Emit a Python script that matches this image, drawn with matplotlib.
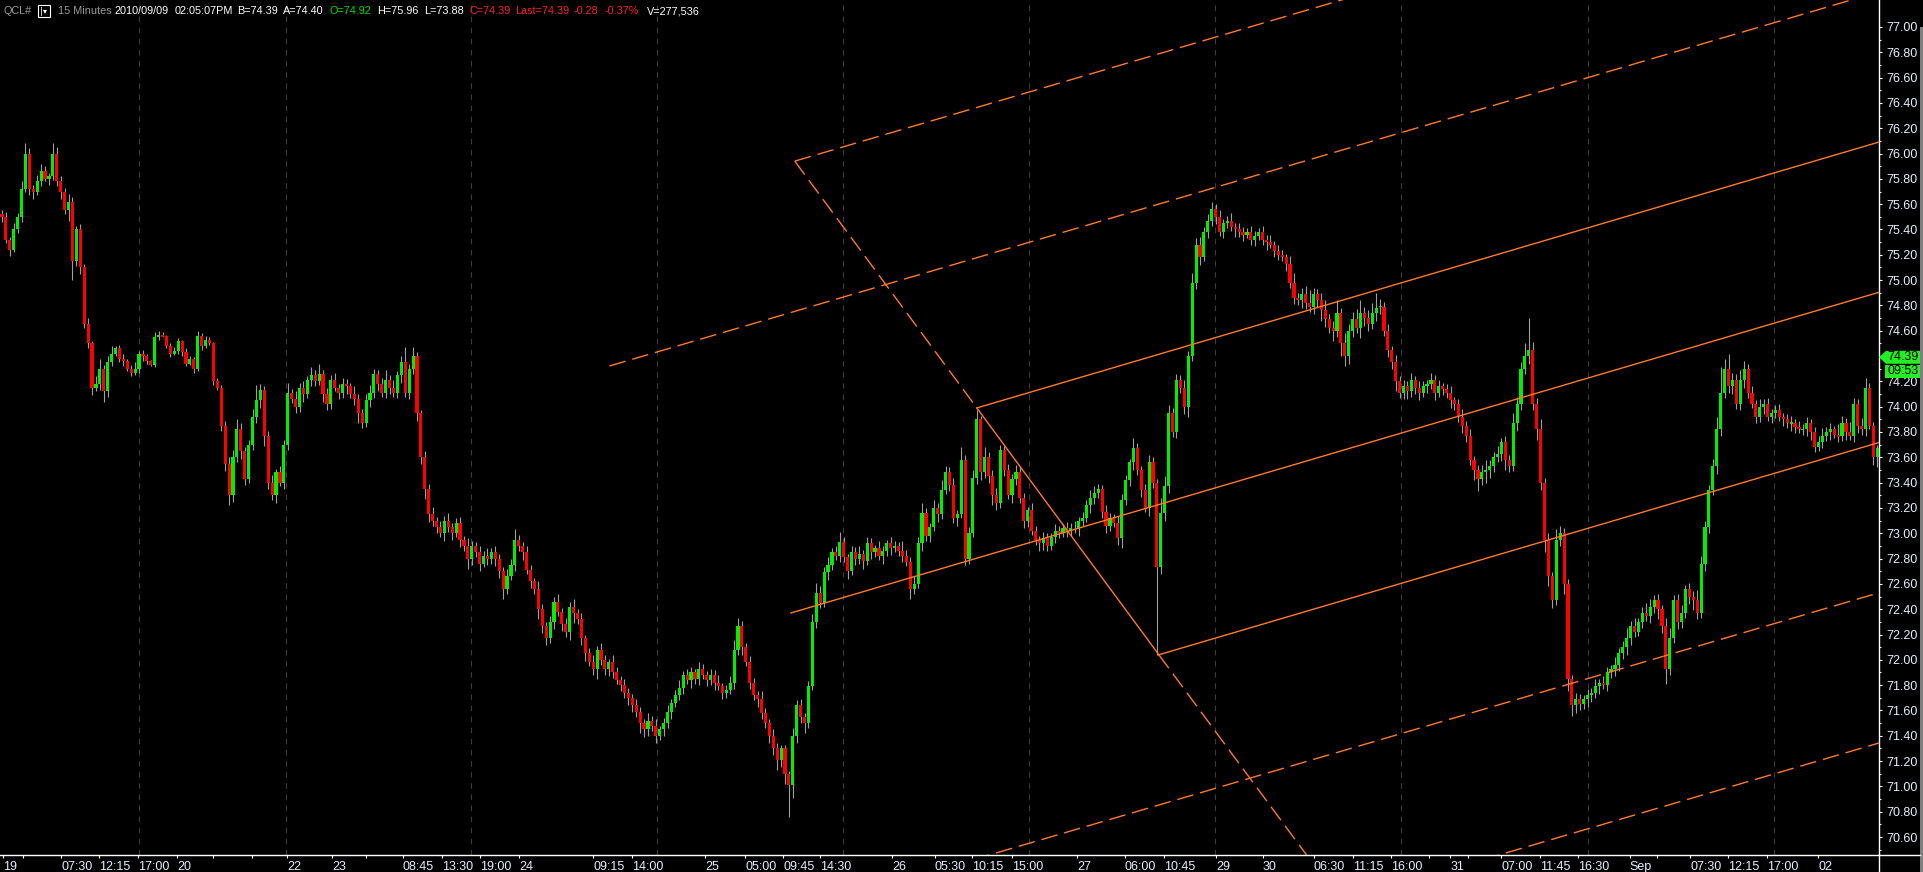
import numpy as np
import matplotlib.pyplot as plt
from matplotlib.patches import Polygon, Rectangle
from matplotlib.lines import Line2D

W, H, DPI = 1924, 872, 100
plt.rcParams['font.family'] = ['Liberation Sans', 'DejaVu Sans']

# --- data (30 min bars) ---
first_open = 75.52
closes = [
    75.50, 75.32, 75.24, 75.40, 75.50, 75.72, 76.00, 75.72, 75.70, 75.78,
    75.86, 75.80, 75.82, 76.00, 75.78, 75.70, 75.55, 75.62, 75.15, 75.40,
    75.10, 74.65, 74.50, 74.15, 74.18, 74.30, 74.12, 74.35, 74.42, 74.46,
    74.38, 74.36, 74.30, 74.27, 74.30, 74.42, 74.40, 74.36, 74.33, 74.55,
    74.57, 74.56, 74.48, 74.42, 74.44, 74.52, 74.43, 74.34, 74.38, 74.30,
    74.56, 74.48, 74.53, 74.50, 74.20, 74.15, 73.85, 73.55, 73.30, 73.60,
    73.82, 73.65, 73.43, 73.70, 73.92, 74.05, 74.13, 73.77, 73.40, 73.30,
    73.48, 73.40, 73.70, 74.11, 74.06, 74.00, 74.15, 74.10, 74.21, 74.25,
    74.20, 74.26, 74.10, 74.02, 74.21, 74.15, 74.11, 74.18, 74.16, 74.10,
    74.06, 73.95, 73.87, 74.05, 74.11, 74.26, 74.18, 74.11, 74.21, 74.15,
    74.11, 74.25, 74.35, 74.11, 74.30, 74.40, 73.95, 73.60, 73.35, 73.15,
    73.10, 73.05, 73.00, 73.10, 73.05, 73.00, 73.08, 72.95, 72.90, 72.80,
    72.90, 72.85, 72.76, 72.82, 72.80, 72.85, 72.80, 72.70, 72.56, 72.66,
    72.75, 72.95, 72.90, 72.85, 72.71, 72.62, 72.56, 72.40, 72.27, 72.17,
    72.30, 72.46, 72.38, 72.28, 72.22, 72.42, 72.37, 72.32, 72.17, 72.05,
    71.98, 71.93, 72.08, 72.00, 71.93, 71.98, 71.90, 71.84, 71.80, 71.74,
    71.70, 71.64, 71.59, 71.50, 71.45, 71.52, 71.48, 71.40, 71.45, 71.50,
    71.59, 71.66, 71.72, 71.78, 71.88, 71.84, 71.90, 71.85, 71.93, 71.88,
    71.84, 71.88, 71.82, 71.79, 71.74, 71.76, 71.82, 72.08, 72.27, 72.10,
    71.98, 71.82, 71.72, 71.69, 71.58, 71.50, 71.40, 71.30, 71.21, 71.30,
    71.10, 71.01, 71.40, 71.64, 71.55, 71.50, 71.79, 72.30, 72.53, 72.45,
    72.69, 72.75, 72.85, 72.82, 72.93, 72.81, 72.70, 72.85, 72.80, 72.84,
    72.78, 72.92, 72.85, 72.88, 72.82, 72.86, 72.92, 72.88, 72.90, 72.86,
    72.82, 72.77, 72.56, 72.60, 72.92, 73.16, 72.98, 73.05, 73.20, 73.15,
    73.34, 73.48, 73.38, 73.12, 73.15, 73.58, 72.80, 73.00, 73.44, 73.90,
    73.48, 73.60, 73.45, 73.30, 73.24, 73.66, 73.50, 73.30, 73.43, 73.48,
    73.28, 73.10, 73.18, 73.02, 72.95, 72.92, 72.96, 72.90, 72.97, 73.02,
    73.00, 73.04, 73.02, 73.04, 73.03, 73.10, 73.12, 73.22, 73.28, 73.32,
    73.35, 73.17, 73.06, 73.12, 73.08, 72.96, 73.26, 73.42, 73.56, 73.67,
    73.50, 73.34, 73.20, 73.56, 73.40, 72.73, 73.16, 73.37, 73.95, 73.80,
    74.21, 74.15, 74.00, 74.40, 74.98, 75.28, 75.18, 75.38, 75.47, 75.56,
    75.50, 75.38, 75.45, 75.47, 75.42, 75.40, 75.38, 75.36, 75.38, 75.32,
    75.35, 75.38, 75.32, 75.30, 75.28, 75.23, 75.20, 75.18, 75.13, 74.98,
    74.86, 74.84, 74.89, 74.82, 74.79, 74.89, 74.84, 74.76, 74.69, 74.62,
    74.60, 74.74, 74.50, 74.40, 74.60, 74.69, 74.62, 74.74, 74.70, 74.65,
    74.74, 74.78, 74.79, 74.60, 74.45, 74.35, 74.20, 74.11, 74.16, 74.12,
    74.21, 74.15, 74.11, 74.16, 74.18, 74.21, 74.11, 74.16, 74.14, 74.11,
    74.05, 74.02, 73.92, 73.85, 73.77, 73.58, 73.50, 73.43, 73.48, 73.50,
    73.53, 73.60, 73.63, 73.72, 73.58, 73.53, 73.87, 74.02, 74.30, 74.40,
    74.45, 74.02, 73.82, 73.40, 72.95, 72.66, 72.47, 72.95, 73.00, 72.60,
    71.85, 71.64, 71.69, 71.65, 71.69, 71.72, 71.74, 71.79, 71.82, 71.80,
    71.90, 71.93, 71.96, 72.05, 72.10, 72.17, 72.27, 72.22, 72.30, 72.37,
    72.35, 72.42, 72.47, 72.40, 72.27, 71.93, 72.17, 72.47, 72.30, 72.37,
    72.56, 72.50, 72.47, 72.37, 72.76, 73.05, 73.34, 73.53, 73.82, 74.11,
    74.30, 74.16, 74.21, 74.02, 74.21, 74.30, 74.11, 74.02, 73.92, 74.00,
    74.02, 73.92, 73.95, 73.97, 73.92, 73.90, 73.87, 73.87, 73.84, 73.82,
    73.82, 73.87, 73.80, 73.68, 73.72, 73.77, 73.80, 73.82, 73.78, 73.77,
    73.87, 73.80, 73.77, 74.02, 73.85, 73.82, 74.15, 73.85, 73.60, 73.67,
]
# wick lengths above / below the body, in cents
wick_up = [
    3, 4, 2, 5, 3, 6, 8, 4, 3, 5, 6, 4, 3, 8, 5, 4, 3, 6, 4, 3,
    4, 3, 5, 2, 6, 8, 3, 5, 6, 2, 3, 4, 2, 3, 5, 2, 3, 2, 1, 4,
    3, 2, 1, 2, 3, 2, 1, 3, 2, 1, 4, 2, 3, 2, 1, 3, 2, 4, 5, 6,
    8, 5, 3, 4, 6, 12, 5, 3, 4, 6, 3, 5, 4, 8, 3, 6, 4, 5, 3, 6,
    4, 8, 3, 5, 4, 6, 3, 5, 4, 3, 6, 4, 3, 5, 6, 4, 3, 5, 8, 4,
    6, 3, 5, 12, 4, 7, 3, 2, 5, 4, 6, 3, 5, 4, 6, 3, 4, 5, 3, 6,
    4, 3, 5, 4, 6, 3, 5, 4, 3, 6, 5, 8, 4, 3, 5, 4, 3, 6, 4, 3,
    5, 4, 6, 3, 5, 4, 6, 3, 5, 3, 4, 6, 3, 5, 4, 3, 6, 4, 3, 5,
    4, 3, 5, 4, 3, 6, 4, 5, 3, 4, 5, 3, 4, 6, 3, 5, 4, 3, 5, 4,
    3, 5, 4, 6, 3, 4, 5, 8, 6, 4, 3, 5, 4, 3, 6, 4, 3, 5, 4, 3,
    3, 2, 6, 4, 5, 3, 4, 6, 8, 5, 4, 6, 3, 5, 8, 4, 3, 5, 4, 6,
    3, 5, 4, 3, 6, 4, 3, 5, 4, 3, 8, 5, 4, 6, 5, 8, 4, 3, 6, 4,
    8, 5, 4, 6, 3, 10, 4, 5, 6, 7, 3, 8, 4, 5, 6, 4, 3, 5, 4, 6,
    5, 4, 3, 6, 4, 3, 5, 4, 3, 5, 4, 3, 5, 4, 6, 3, 5, 4, 6, 5,
    4, 3, 5, 4, 3, 6, 5, 4, 3, 8, 4, 3, 5, 6, 4, 3, 12, 8, 6, 4,
    5, 4, 6, 4, 8, 5, 6, 4, 5, 6, 4, 5, 3, 4, 6, 3, 5, 4, 3, 5,
    4, 3, 5, 4, 6, 3, 5, 4, 3, 6, 8, 4, 5, 6, 10, 5, 4, 6, 8, 4,
    6, 10, 4, 8, 5, 6, 8, 10, 5, 6, 8, 12, 6, 4, 5, 3, 6, 4, 5, 4,
    6, 3, 5, 4, 3, 6, 4, 5, 3, 4, 5, 3, 4, 6, 4, 5, 3, 4, 6, 8,
    5, 4, 6, 3, 5, 4, 8, 6, 5, 10, 25, 6, 5, 8, 4, 5, 3, 8, 6, 4,
    4, 3, 5, 4, 3, 5, 4, 6, 3, 5, 4, 3, 6, 4, 5, 8, 4, 6, 3, 5,
    8, 6, 4, 5, 3, 6, 8, 4, 5, 6, 3, 5, 4, 8, 6, 5, 4, 6, 10, 20,
    8, 12, 6, 5, 8, 6, 4, 5, 3, 6, 4, 5, 3, 4, 5, 3, 4, 6, 3, 5,
    4, 5, 3, 4, 5, 6, 4, 5, 3, 8, 6, 4, 8, 5, 4, 6, 8, 4, 3, 3,
]
wick_dn = [
    4, 3, 5, 2, 3, 4, 2, 5, 6, 3, 4, 2, 5, 3, 4, 6, 3, 8, 15, 4,
    5, 3, 4, 6, 3, 5, 8, 4, 3, 2, 3, 4, 2, 3, 2, 3, 4, 2, 1, 2,
    2, 1, 2, 3, 1, 2, 3, 2, 1, 3, 2, 3, 2, 1, 3, 2, 4, 6, 8, 5,
    4, 6, 5, 3, 4, 5, 6, 8, 5, 4, 6, 3, 5, 4, 3, 5, 4, 6, 3, 5,
    4, 3, 6, 5, 4, 3, 5, 4, 6, 3, 5, 8, 4, 3, 5, 4, 6, 3, 4, 5,
    3, 4, 6, 3, 5, 4, 6, 5, 8, 6, 4, 5, 3, 6, 4, 5, 3, 6, 4, 8,
    5, 4, 6, 3, 5, 4, 6, 5, 8, 4, 3, 5, 4, 6, 3, 5, 4, 8, 6, 5,
    4, 6, 3, 5, 4, 6, 8, 4, 5, 6, 3, 5, 8, 4, 5, 6, 4, 3, 5, 4,
    6, 5, 4, 8, 6, 5, 4, 6, 3, 5, 4, 6, 3, 4, 5, 3, 6, 4, 5, 3,
    5, 4, 6, 3, 5, 4, 3, 5, 4, 6, 3, 5, 4, 6, 5, 4, 6, 5, 8, 6,
    8, 25, 10, 6, 5, 8, 4, 3, 5, 4, 3, 6, 4, 3, 5, 4, 6, 3, 5, 4,
    6, 3, 5, 4, 3, 6, 4, 5, 3, 4, 5, 3, 8, 4, 3, 6, 4, 5, 3, 6,
    4, 3, 5, 4, 6, 3, 5, 4, 3, 5, 6, 4, 5, 8, 6, 4, 5, 3, 6, 5,
    4, 6, 5, 3, 4, 6, 5, 4, 3, 5, 4, 3, 5, 4, 3, 5, 4, 3, 6, 5,
    4, 5, 6, 4, 3, 5, 8, 4, 5, 6, 4, 5, 3, 6, 4, 69, 5, 6, 5, 4,
    5, 4, 6, 8, 4, 5, 6, 3, 5, 4, 6, 3, 5, 4, 3, 6, 4, 5, 3, 4,
    5, 3, 4, 6, 3, 5, 4, 3, 6, 4, 5, 4, 6, 5, 4, 6, 5, 8, 6, 4,
    8, 5, 10, 8, 6, 5, 4, 8, 6, 5, 4, 6, 5, 4, 6, 5, 8, 4, 5, 6,
    4, 5, 6, 3, 5, 4, 6, 3, 5, 4, 6, 5, 4, 6, 5, 4, 8, 10, 5, 8,
    6, 5, 4, 6, 8, 5, 4, 6, 5, 4, 6, 5, 8, 6, 10, 8, 6, 4, 5, 8,
    10, 8, 6, 5, 4, 6, 5, 4, 6, 3, 5, 4, 6, 5, 4, 6, 5, 4, 3, 5,
    4, 6, 5, 8, 6, 12, 5, 4, 6, 5, 4, 6, 8, 5, 4, 6, 5, 4, 6, 5,
    4, 5, 6, 4, 5, 6, 4, 3, 5, 4, 6, 3, 5, 4, 3, 5, 4, 6, 5, 3,
    4, 5, 6, 4, 3, 5, 4, 6, 3, 5, 4, 6, 3, 5, 6, 4, 5, 3, 6, 8,
]

# time axis: bar index of each labelled tick
tick_pos = [0.3, 15.1, 24.8, 34.7, 44.7, 72.8, 84.3, 102.4, 112.4, 122.1,
            132.1, 151.0, 160.9, 179.6, 189.8, 199.5, 208.9, 227.3, 238.3, 247.8,
            258.0, 274.6, 286.8, 296.8, 310.1, 322.1, 335.1, 345.1, 354.8, 369.9,
            382.9, 392.9, 402.6, 415.8, 431.2, 440.9, 450.8, 463.9]
tick_lbl = ['19', '07:30', '12:15', '17:00', '20', '22', '23', '08:45', '13:30', '19:00',
            '24', '09:15', '14:00', '25', '05:00', '09:45', '14:30', '26', '05:30', '10:15',
            '15:00', '27', '06:00', '10:45', '29', '30', '06:30', '11:15', '16:00', '31',
            '07:00', '11:45', '16:30', 'Sep', '07:30', '12:15', '17:00', '02']
minor_pos = [5.4, 53.9, 63.9, 93.0, 364.5, 374.5, 422.7]
grid_pos = [35.0, 72.5, 119.8, 167.3, 214.8, 262.3, 309.9, 357.4, 405.1, 452.6]

# pitchfork pivots (bar index, price)
piv_a = (201.5, 72.37)
piv_b = (249.0, 73.99)
piv_c = (295.5, 72.04)
warn2_start = 155.2

last_price = 74.39
bar_timer = '09:53'
header = [('QCL#', 4, '#9a9a9a'), ('15 Minutes', 58, '#9a9a9a'),
          ('2010/09/09', 115, 'white'), ('02:05:07PM', 175, 'white'),
          ('B=74.39', 237, 'white'), ('A=74.40', 283, 'white'),
          ('O=74.92', 330, '#00e000'), ('H=75.96', 377, 'white'),
          ('L=73.88', 424, 'white'), ('C=74.39', 470, '#ff2020'),
          ('Last=74.39', 515, '#ff2020'), ('-0.28', 574, '#ff2020'),
          ('-0.37%', 605, '#ff2020'), ('V=277,536', 647, 'white')]

# --- figure ---
fig = plt.figure(figsize=(W / DPI, H / DPI), dpi=DPI, facecolor='black')
ax = fig.add_axes([0, 17 / H, 1879 / W, 855 / H], facecolor='black')

def fx(x):
    return x / W

def fy(y):
    return 1 - y / H

c = np.array(closes)
o = np.concatenate([[first_open], c[:-1]])
hi = np.maximum(o, c) + np.array(wick_up) / 100
lo = np.minimum(o, c) - np.array(wick_dn) / 100
x = np.arange(len(c))
up = c >= o

for g in grid_pos:
    ax.axvline(g, color='#3c3c3c', lw=0.8, ls=(0, (5, 5)), zorder=0)

# candles: grey wicks, coloured bodies (flat bars get a thin dash)
ax.vlines(x, lo, hi, color='#a0a0a0', lw=0.8, zorder=2)
flat = np.abs(c - o) < 0.012
body = np.where(flat, 0.012, c - o)
bottom = np.where(flat, c - 0.006, o)
ax.bar(x[up], body[up], bottom=bottom[up], width=0.8, color='#00ee00', lw=0, zorder=3)
ax.bar(x[~up], body[~up], bottom=bottom[~up], width=0.8, color='#ff0000', lw=0, zorder=3)

# --- Andrews pitchfork ---
orange = '#ff7a2a'
mid = ((piv_b[0] + piv_c[0]) / 2, (piv_b[1] + piv_c[1]) / 2)
m = (mid[1] - piv_a[1]) / (mid[0] - piv_a[0])

def median(xx):
    return piv_a[1] + m * (xx - piv_a[0])

d = piv_b[1] - median(piv_b[0])
s = (piv_c[1] - piv_b[1]) / (piv_c[0] - piv_b[0])

def bc(xx):
    return piv_b[1] + s * (xx - piv_b[0])

# where the BC line meets the outer (+3) line
x3 = (piv_a[1] - m * piv_a[0] + 3 * d - piv_b[1] + s * piv_b[0]) / (s - m)
x_end = 520
dash = (0, (12, 5))
kw = dict(color=orange, lw=1.0, zorder=4)

def par(x0, k, ls='-'):
    xs = np.array([x0, x_end])
    ax.plot(xs, median(xs) + k * d, ls=ls, **kw)

par(piv_a[0], 0)
par(piv_b[0], 1)
par(piv_c[0], -1)
par(warn2_start, 2, dash)
par(x3, 3, dash)
par(150, -2, dash)
par(300, -3, dash)
ax.plot([x3, piv_b[0]], [bc(x3), piv_b[1]], ls=dash, **kw)
ax.plot([piv_b[0], piv_c[0]], [piv_b[1], piv_c[1]], ls='-', **kw)
ax.plot([piv_c[0], 360], [piv_c[1], bc(360)], ls=dash, **kw)

ax.set_xlim(-0.51, 479.44)
ax.set_ylim(70.458, 77.213)

# --- axes styling ---
lab = '#e8eeff'
for sp in ['top', 'left']:
    ax.spines[sp].set_visible(False)
for sp in ['bottom', 'right']:
    ax.spines[sp].set_color('white')
    ax.spines[sp].set_linewidth(1.0)
ax.yaxis.tick_right()
yt = np.round(np.arange(70.6, 77.01, 0.2), 2)
ax.set_yticks(yt, [f'{v:.2f}' for v in yt])
ax.set_yticks(np.round(yt - 0.1, 2), minor=True)
ax.tick_params(axis='y', which='major', colors='white', labelcolor=lab, length=2.5,
               width=0.8, pad=2.5, labelsize=9)
ax.tick_params(axis='y', which='minor', colors='white', length=1.5, width=0.8)
ax.set_xticks(tick_pos, tick_lbl)
ax.set_xticks(minor_pos, minor=True)
for t in ax.get_xticklabels():
    t.set_horizontalalignment('left')
ax.tick_params(axis='x', which='both', colors='white', labelcolor=lab, length=2.5,
               width=0.8, pad=1.5, labelsize=9)

# axis line stubs in the right panel, grey scrollbar strip
fig.add_artist(Line2D([fx(1879), fx(1920)], [fy(855), fy(855)], color='white', lw=1.0))
fig.add_artist(Line2D([fx(1879), fx(1879)], [fy(855), fy(872)], color='white', lw=1.0))
fig.add_artist(Rectangle((fx(1920), 0), fx(4), fy(27), color='#7f7f7f', lw=0))

# last price tag + bar timer
ty = ax.transData.transform((0, last_price))[1] / H
green = '#22ee22'
hh = 6.5 / H
tag = Polygon([(fx(1879), ty), (fx(1886), ty + hh), (fx(1920), ty + hh),
               (fx(1920), ty - hh), (fx(1886), ty - hh)], closed=True,
              facecolor=green, edgecolor='none', transform=fig.transFigure)
fig.add_artist(tag)
fig.text(fx(1903), ty, f'{last_price:.2f}', color='black', fontsize=9,
         ha='center', va='center')
fig.add_artist(Rectangle((fx(1885), ty - hh - 14 / H), fx(35), 12.5 / H,
                         facecolor=green, edgecolor='none', transform=fig.transFigure))
fig.text(fx(1903), ty - hh - 7.5 / H, bar_timer, color='black', fontsize=9,
         ha='center', va='center')

# header line
for txt, px, col in header:
    fig.text(fx(px), fy(11), txt, color=col, fontsize=7.8, ha='left', va='center')
fig.add_artist(Rectangle((fx(38), fy(17)), fx(12), 12 / H, facecolor='black',
                         edgecolor='white', lw=0.8, transform=fig.transFigure))
fig.text(fx(44), fy(11), '|▾', color='white', fontsize=6, ha='center', va='center',
         family=['DejaVu Sans'])

fig.savefig('out.png', dpi=DPI, facecolor='black')
